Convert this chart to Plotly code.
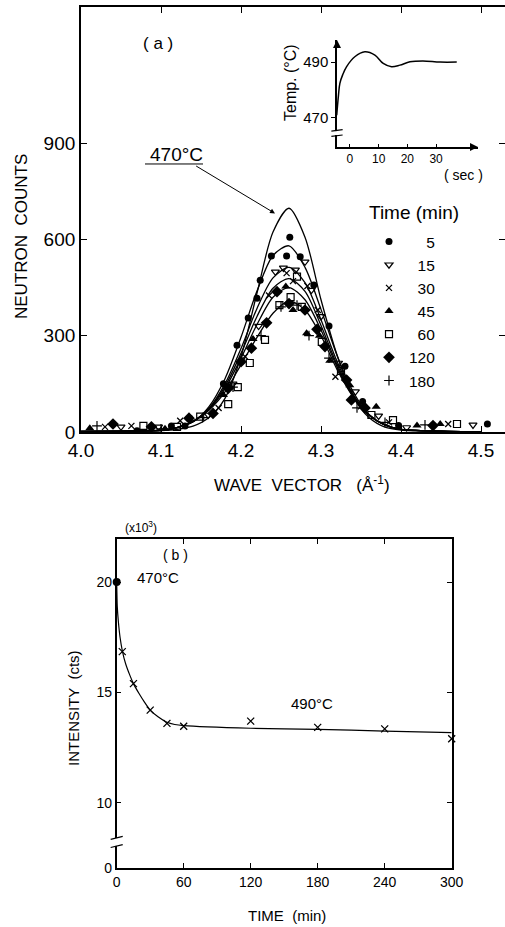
import plotly.graph_objects as go

W, H = 505, 927
def px(x): return x / W
def py(y): return 1 - y / H

FONT = "Liberation Sans"

# ---------------- Panel (a): neutron counts vs wave vector ----------------
k_grid = [4.00, 4.05, 4.10, 4.12, 4.14, 4.16, 4.18, 4.20, 4.22, 4.24, 4.26,
          4.28, 4.30, 4.32, 4.34, 4.36, 4.38, 4.40, 4.45, 4.50]
fit_470 = [1, 2, 4, 8, 18, 45, 105, 235, 433, 623, 697, 607, 412, 240, 110, 45, 15, 6, 2, 1]
fit_5   = [2, 3, 6, 14, 31, 79, 166, 295, 439, 550, 580, 513, 382, 239, 126, 55, 21, 8, 3, 1]
fit_15  = [2, 3, 6, 14, 32, 74, 150, 260, 385, 480, 513, 465, 350, 220, 118, 54, 22, 8, 3, 1]
fit_30  = [2, 3, 6, 14, 33, 72, 142, 245, 360, 448, 478, 438, 332, 210, 114, 53, 22, 8, 3, 1]
fit_45  = [2, 3, 5, 14, 33, 70, 135, 230, 335, 420, 450, 412, 318, 203, 112, 52, 22, 8, 3, 1]
fit_180 = [2, 3, 5, 14, 33, 68, 125, 210, 295, 370, 408, 380, 300, 195, 110, 52, 22, 8, 3, 1]

k5 = [4.07, 4.113, 4.13, 4.136, 4.178, 4.195, 4.209, 4.22, 4.224, 4.238, 4.257, 4.261,
      4.274, 4.291, 4.31, 4.33, 4.352, 4.397, 4.508]
c5 = [4, 19, 19, 43, 150, 270, 355, 417, 473, 548, 548, 607, 546, 458, 330, 205, 95, 20, 25]

k15 = [4.05, 4.097, 4.159, 4.19, 4.222, 4.243, 4.253, 4.268, 4.28, 4.288, 4.30, 4.322,
       4.343, 4.372, 4.407, 4.49]
c15 = [16, 16, 53, 150, 330, 499, 511, 505, 530, 442, 360, 215, 126, 50, 14, 22]

k30 = [4.03, 4.063, 4.124, 4.172, 4.205, 4.235, 4.257, 4.265, 4.283, 4.296, 4.318, 4.35,
       4.385, 4.459]
c30 = [16, 19, 35, 75, 235, 425, 495, 470, 455, 380, 172, 80, 30, 25]

k45 = [4.011, 4.105, 4.178, 4.215, 4.245, 4.256, 4.265, 4.282, 4.298, 4.311, 4.336, 4.369,
       4.42, 4.449]
c45 = [12, 10, 115, 290, 440, 453, 380, 308, 300, 222, 146, 79, 20, 25]

k60 = [4.078, 4.12, 4.149, 4.184, 4.196, 4.211, 4.23, 4.248, 4.262, 4.27, 4.276, 4.301,
       4.325, 4.363, 4.39, 4.47]
c60 = [19, 16, 48, 87, 140, 215, 287, 395, 420, 484, 390, 281, 190, 53, 37, 25]

k120 = [4.04, 4.088, 4.135, 4.165, 4.184, 4.2, 4.213, 4.232, 4.245, 4.26, 4.28, 4.295,
        4.305, 4.332, 4.338, 4.355, 4.44]
c120 = [25, 16, 43, 58, 136, 219, 261, 340, 437, 400, 380, 320, 266, 162, 100, 75, 20]

k180 = [4.02, 4.10, 4.152, 4.19, 4.225, 4.25, 4.27, 4.285, 4.31, 4.345, 4.38, 4.43]
c180 = [19, 10, 45, 140, 300, 390, 395, 300, 230, 75, 30, 22]

legend_labels = ["\u2007\u20075", "\u200715", "\u200730", "\u200745", "\u200760", "120", "180"]
legend_title = "Time (min)"

x_ticks_a = [4.0, 4.1, 4.2, 4.3, 4.4, 4.5]
x_ticktext_a = ["4.0", "4.1", "4.2", "4.3", "4.4", "4.5"]
y_ticks_a = [0, 300, 600, 900]
x_range_a = [4.0, 4.53]
y_range_a = [0, 1324]

# ---------------- Inset: temperature vs time ----------------
t_sec = [-4.6, -4.0, -3.5, -2.5, -1.2, 1.7, 5.2, 8.7, 11.6, 14.5, 17.4, 20.9, 25.4, 31.4, 37.2]
temp_c = [471, 478, 482.4, 485.5, 488.3, 491.9, 493.7, 492.5, 489.5, 488.3, 488.9, 490.1,
          490.4, 490.0, 490.0]
inset_xticks = [0, 10, 20, 30]
inset_yticks = [470, 490]
inset_xrange = [-4.5, 44.6]
inset_yrange = [459.6, 497.9]
inset_break = 464.6

# ---------------- Panel (b): intensity vs time ----------------
t_470 = [0]
I_470 = [20.0]
t_490 = [5, 15, 30, 45, 60, 120, 180, 240, 300]
I_490 = [16.85, 15.4, 14.2, 13.6, 13.47, 13.7, 13.42, 13.35, 12.9]
t_fit = [0, 0.5, 1.5, 3, 5, 8, 12, 15, 20, 25, 30, 37, 45, 52, 60, 120, 180, 240, 300]
I_fit = [20.0, 18.9, 18.2, 17.5, 16.9, 16.3, 15.75, 15.4, 14.95, 14.55, 14.2, 13.9, 13.65,
         13.55, 13.5, 13.38, 13.33, 13.25, 13.18]
x_ticks_b = [0, 60, 120, 180, 240, 300]
# broken axis: the bottom of the axis stands for 0
y_b_bottom = 7.05
y_ticks_b = [y_b_bottom, 10, 15, 20]
y_ticktext_b = ["0", "10", "15", "20"]
y_b_break = 8.23

fig = go.Figure()

# fitted curves of panel (a)
for vals in [fit_470, fit_5, fit_15, fit_30, fit_45, fit_180]:
    fig.add_trace(go.Scatter(x=k_grid, y=vals, mode="lines",
                             line=dict(color="black", width=1.3, shape="spline", smoothing=0.8),
                             showlegend=False, hoverinfo="skip", xaxis="x", yaxis="y"))

marker_specs = [
    (k5, c5, dict(symbol="circle", size=7, color="black")),
    (k15, c15, dict(symbol="triangle-down-open", size=7, color="black", line=dict(width=1.2, color="black"))),
    (k30, c30, dict(symbol="x-thin", size=6, color="black", line=dict(width=1.3, color="black"))),
    (k45, c45, dict(symbol="triangle-up", size=8, color="black")),
    (k60, c60, dict(symbol="square-open", size=7, color="black", line=dict(width=1.2, color="black"))),
    (k120, c120, dict(symbol="diamond", size=9, color="black")),
    (k180, c180, dict(symbol="cross-thin", size=7, color="black", line=dict(width=1.2, color="black"))),
]
for (kx, cy, mk), lab in zip(marker_specs, legend_labels):
    fig.add_trace(go.Scatter(x=kx, y=cy, mode="markers", marker=mk, name=lab,
                             xaxis="x", yaxis="y"))

# inset
fig.add_trace(go.Scatter(x=t_sec, y=temp_c, mode="lines",
                         line=dict(color="black", width=1.5, shape="spline", smoothing=1.0),
                         showlegend=False, xaxis="x3", yaxis="y3", cliponaxis=False))
# inset axis arrowheads (at the ends of the inset axes)
fig.add_trace(go.Scatter(x=[inset_xrange[0], inset_xrange[1]], y=[inset_yrange[1], inset_yrange[0]],
                         mode="markers",
                         marker=dict(symbol=["arrow-up", "arrow-right"], size=8, color="black",
                                     line=dict(width=0)),
                         showlegend=False, hoverinfo="skip", xaxis="x3", yaxis="y3",
                         cliponaxis=False))

# panel (b)
fig.add_trace(go.Scatter(x=t_fit, y=I_fit, mode="lines",
                         line=dict(color="black", width=1.2, shape="spline", smoothing=0.6),
                         showlegend=False, xaxis="x2", yaxis="y2", cliponaxis=False))
fig.add_trace(go.Scatter(x=t_490, y=I_490, mode="markers",
                         marker=dict(symbol="x-thin", size=7, color="black",
                                     line=dict(width=1.3, color="black")),
                         showlegend=False, xaxis="x2", yaxis="y2", cliponaxis=False))
fig.add_trace(go.Scatter(x=t_470, y=I_470, mode="markers",
                         marker=dict(symbol="circle", size=8, color="black"),
                         showlegend=False, xaxis="x2", yaxis="y2", cliponaxis=False))

axis_common = dict(showgrid=False, zeroline=False, showline=True, linecolor="black",
                   ticks="inside", tickcolor="black", mirror="ticks", automargin=False)
inset_common = dict(showgrid=False, zeroline=False, showline=True, linecolor="black",
                    linewidth=1.5, tickcolor="black", automargin=False)

fig.update_layout(
    width=W, height=H, margin=dict(l=0, r=0, t=0, b=0, pad=0), autosize=False,
    paper_bgcolor="white", plot_bgcolor="white",
    font=dict(family=FONT, color="black"),
    xaxis=dict(axis_common, domain=[px(81), 1.0], range=x_range_a, anchor="y",
               tickvals=x_ticks_a, ticktext=x_ticktext_a, ticklen=6, linewidth=1.8,
               tickfont=dict(size=19)),
    yaxis=dict(axis_common, domain=[py(432), py(7)], range=y_range_a, anchor="x",
               tickvals=y_ticks_a, ticklen=6, linewidth=1.8, tickfont=dict(size=19)),
    xaxis2=dict(axis_common, domain=[px(116.7), px(451.7)], range=[0, 300], anchor="y2",
                tickvals=x_ticks_b, ticklen=5, linewidth=1.5, tickfont=dict(size=14)),
    yaxis2=dict(axis_common, domain=[py(868), py(539)], range=[y_b_bottom, 21.95], anchor="x2",
                tickvals=y_ticks_b, ticktext=y_ticktext_b, ticklen=5, linewidth=1.5,
                tickfont=dict(size=14)),
    xaxis3=dict(inset_common, domain=[px(337), px(478)], range=inset_xrange, anchor="y3",
                tickvals=inset_xticks, ticks="inside", ticklen=3, tickfont=dict(size=12)),
    yaxis3=dict(inset_common, domain=[py(147), py(40)], range=inset_yrange, anchor="x3",
                tickvals=inset_yticks, ticks="outside", ticklen=4, tickfont=dict(size=15)),
    legend=dict(x=px(369), y=py(225), xanchor="left", yanchor="top",
                bgcolor="rgba(0,0,0,0)", font=dict(size=15.5, family=FONT),
                tracegroupgap=0, itemsizing="trace"),
)

ann = []
def txt(x, y, s, size, **kw):
    d = dict(x=px(x), y=py(y), xref="paper", yref="paper", text=s, showarrow=False,
             xanchor="center", yanchor="middle",
             font=dict(size=size, family=FONT, color="black"))
    d.update(kw)
    ann.append(d)

# panel (a) texts
txt(158, 43, "( a )", 17)
txt(22, 237, "NEUTRON  COUNTS", 17, textangle=-90)
txt(302, 484, "WAVE  VECTOR   (Å<sup>-1</sup>)", 17)
txt(414, 212, legend_title, 19)
ann.append(dict(x=4.2425, y=681, xref="x", yref="y", ax=4.119, ay=866, axref="x", ayref="y",
                text="470°C", showarrow=True, arrowhead=2, arrowsize=1, arrowwidth=1,
                arrowcolor="black", standoff=0,
                font=dict(size=19, family=FONT, color="black")))
# inset texts
txt(290, 83, "Temp. (°C)", 16, textangle=-90)
txt(463, 175, "( sec )", 14)
# panel (b) texts
txt(141, 527, "(x10<sup>3</sup>)", 12)
txt(175, 555, "( b )", 14)
txt(158, 577, "470°C", 15)
txt(312, 703, "490°C", 15)
txt(73, 708, "INTENSITY  (cts)", 15, textangle=-90)
txt(287, 915, "TIME  (min)", 15)
fig.update_layout(annotations=ann)

shapes = [
    # underline of the 470°C label
    dict(type="line", xref="x", yref="y", x0=4.08, x1=4.1525, y0=835, y1=835,
         line=dict(color="black", width=1)),
    # break on panel (b) y axis
    dict(type="rect", xref="x2 domain", yref="y2", x0=-0.02, x1=0.02, y0=y_b_break - 0.18,
         y1=y_b_break + 0.18, fillcolor="white", line=dict(width=0)),
    dict(type="line", xref="x2 domain", yref="y2", x0=-0.018, x1=0.018, y0=y_b_break - 0.25,
         y1=y_b_break - 0.12, line=dict(color="black", width=1.2)),
    dict(type="line", xref="x2 domain", yref="y2", x0=-0.018, x1=0.018, y0=y_b_break + 0.12,
         y1=y_b_break + 0.25, line=dict(color="black", width=1.2)),
    # break on inset y axis
    dict(type="rect", xref="x3 domain", yref="y3", x0=-0.05, x1=0.05, y0=inset_break - 0.7,
         y1=inset_break + 0.7, fillcolor="white", line=dict(width=0)),
    dict(type="line", xref="x3 domain", yref="y3", x0=-0.04, x1=0.04, y0=inset_break - 1.2,
         y1=inset_break - 0.7, line=dict(color="black", width=1.2)),
    dict(type="line", xref="x3 domain", yref="y3", x0=-0.04, x1=0.04, y0=inset_break + 0.7,
         y1=inset_break + 1.2, line=dict(color="black", width=1.2)),
]
fig.update_layout(shapes=shapes)

fig.write_html("out.html",
               post_script="document.body.style.margin='0';document.body.style.overflow='hidden';")
